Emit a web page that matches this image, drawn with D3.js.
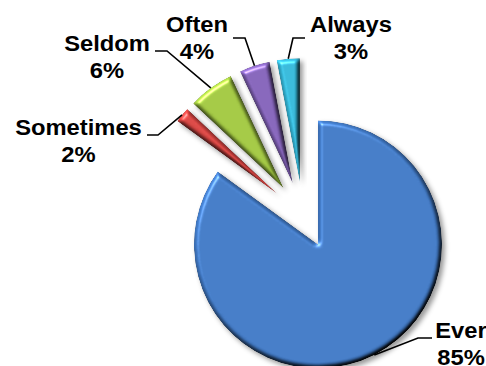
<!DOCTYPE html>
<html><head><meta charset="utf-8">
<script src="https://cdn.jsdelivr.net/npm/d3@7"></script>
<style>html,body{margin:0;padding:0;background:#fff;overflow:hidden}</style>
</head><body>
<svg id="chart" width="486" height="366"></svg>
<script>
const categories = ["Ever", "Sometimes", "Seldom", "Often", "Always"];
const values = [85, 2, 6, 4, 3];
const valueLabels = ["85%", "2%", "6%", "4%", "3%"];
const colors = ["#3f76c0", "#d34340", "#9dc23f", "#8060b4", "#33b3d3"];

// layout (positions only)
const cx = 303, cy = 215, radius = 124, explode = 33;
const labelLayout = [
  {x: 461, y: 338, line: [[432, 338], [418, 338]]},
  {x: 78.5, y: 135, line: [[147, 135], [158, 135]]},
  {x: 107, y: 51, line: [[155, 51], [167, 51]]},
  {x: 197, y: 32, line: [[233, 38], [245, 38]]},
  {x: 351, y: 32, line: [[305, 38], [293, 38]]}
];

const svg = d3.select("#chart");
const defs = svg.append("defs");
const f = defs.append("filter").attr("id", "bevel")
  .attr("color-interpolation-filters", "sRGB")
  .attr("x", "-20%").attr("y", "-20%").attr("width", "150%").attr("height", "150%");
f.append("feGaussianBlur").attr("in", "SourceAlpha").attr("stdDeviation", 2.2).attr("result", "b");
const dl = f.append("feDiffuseLighting").attr("in", "b").attr("surfaceScale", 4)
  .attr("diffuseConstant", 1).attr("lighting-color", "#fff").attr("result", "d");
dl.append("feDistantLight").attr("azimuth", 235).attr("elevation", 55);
const sl = f.append("feSpecularLighting").attr("in", "b").attr("surfaceScale", 4)
  .attr("specularConstant", 0.8).attr("specularExponent", 25).attr("lighting-color", "#fff").attr("result", "s");
sl.append("feDistantLight").attr("azimuth", 235).attr("elevation", 40);
f.append("feComposite").attr("in", "SourceGraphic").attr("in2", "d").attr("operator", "arithmetic")
  .attr("k1", 1.22).attr("k2", 0).attr("k3", 0).attr("k4", 0).attr("result", "lit");
f.append("feComposite").attr("in", "s").attr("in2", "SourceAlpha").attr("operator", "in").attr("result", "sIn");
f.append("feComposite").attr("in", "lit").attr("in2", "sIn").attr("operator", "arithmetic")
  .attr("k1", 0).attr("k2", 1).attr("k3", 0.5).attr("k4", 0).attr("result", "lit2");
f.append("feComposite").attr("in", "lit2").attr("in2", "SourceAlpha").attr("operator", "in").attr("result", "face");
f.append("feGaussianBlur").attr("in", "SourceAlpha").attr("stdDeviation", 2.5).attr("result", "sb");
f.append("feOffset").attr("in", "sb").attr("dx", 3).attr("dy", 3).attr("result", "so");
f.append("feFlood").attr("flood-color", "#000").attr("flood-opacity", 0.4).attr("result", "fl");
f.append("feComposite").attr("in", "fl").attr("in2", "so").attr("operator", "in").attr("result", "shadow");
const m = f.append("feMerge");
m.append("feMergeNode").attr("in", "shadow");
m.append("feMergeNode").attr("in", "face");

const pie = d3.pie().sort(null).value(d => d);
const arcs = pie(values);
const arc = d3.arc().innerRadius(0).outerRadius(radius);

function vertex(a) {
  const mid = (a.startAngle + a.endAngle) / 2;
  return [cx + explode * Math.sin(mid), cy - explode * Math.cos(mid)];
}

const g = svg.append("g");
g.selectAll("path.slice").data(arcs).enter().append("path")
  .attr("class", "slice")
  .attr("d", arc)
  .attr("fill", (d, i) => colors[i])
  .attr("filter", "url(#bevel)")
  .attr("transform", d => { const v = vertex(d); return `translate(${v[0]},${v[1]})`; });

// leader lines
const line = d3.line();
arcs.forEach((a, i) => {
  const v = vertex(a);
  const mid = (a.startAngle + a.endAngle) / 2;
  const end = [v[0] + radius * Math.sin(mid), v[1] - radius * Math.cos(mid)];
  const pts = labelLayout[i].line.concat([end]);
  svg.append("path").attr("d", line(pts)).attr("fill", "none")
    .attr("stroke", "#000").attr("stroke-width", 1.6);
});

// labels
arcs.forEach((a, i) => {
  const L = labelLayout[i];
  const t = svg.append("g").attr("transform", `translate(${L.x},${L.y}) scale(1.08,1)`);
  t.append("text").attr("text-anchor", "middle").attr("x", 0).attr("y", 0)
    .attr("font-family", "Arial, 'Liberation Sans', sans-serif").attr("font-weight", "bold")
    .attr("font-size", 22).attr("fill", "#000").text(categories[i]);
  t.append("text").attr("text-anchor", "middle").attr("x", 0).attr("y", 27.5)
    .attr("font-family", "Arial, 'Liberation Sans', sans-serif").attr("font-weight", "bold")
    .attr("font-size", 22).attr("fill", "#000").text(valueLabels[i]);
});
</script>
</body></html>
